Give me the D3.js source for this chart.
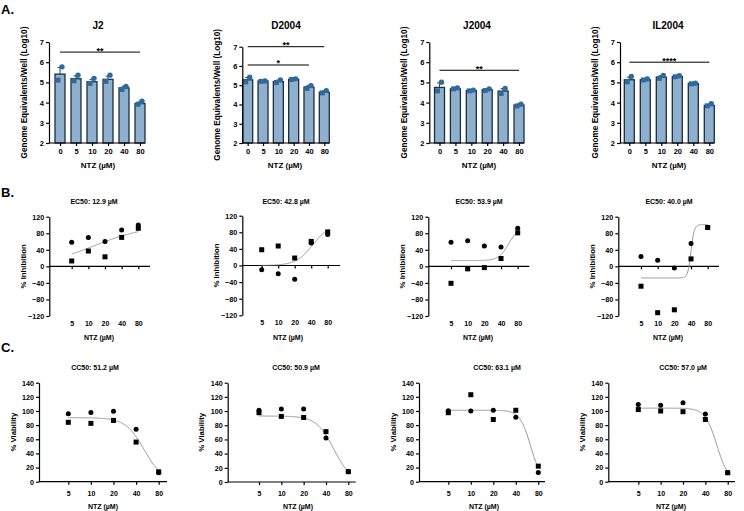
<!DOCTYPE html>
<html><head><meta charset="utf-8">
<script src="https://cdn.jsdelivr.net/npm/d3@7"></script>
<style>
body{margin:0;background:#fff;}
svg{display:block;font-family:"Liberation Sans",Arial,sans-serif;font-weight:bold;}
</style></head><body>
<svg id="c" width="744" height="511"></svg>
<script>
// ---------------- DATA ----------------
const doses = ["0","5","10","20","40","80"];
const strains = ["J2","D2004","J2004","IL2004"];

// Panel A: genome equivalents (log10), bar = mean, two replicates (circle / square), SEM
const barJ2      = [5.41, 5.18, 5.03, 5.15, 4.73, 3.95];
const circJ2     = [5.77, 5.36, 5.20, 5.36, 4.80, 4.07];
const sqJ2       = [5.11, 5.08, 4.95, 5.05, 4.65, 3.92];
const errJ2      = [0.33, 0.14, 0.12, 0.16, 0.08, 0.08];

const barD2004   = [5.28, 5.22, 5.19, 5.31, 4.90, 4.64];
const circD2004  = [5.41, 5.22, 5.28, 5.33, 4.98, 4.72];
const sqD2004    = [5.17, 5.20, 5.14, 5.30, 4.83, 4.60];
const errD2004   = [0.12, 0.02, 0.07, 0.02, 0.08, 0.06];

const barJ2004   = [4.75, 4.68, 4.60, 4.64, 4.57, 3.88];
const circJ2004  = [5.01, 4.73, 4.62, 4.68, 4.70, 3.92];
const sqJ2004    = [4.58, 4.68, 4.58, 4.60, 4.45, 3.83];
const errJ2004   = [0.22, 0.03, 0.02, 0.04, 0.12, 0.05];

const barIL2004  = [5.13, 5.13, 5.26, 5.29, 4.95, 3.86];
const circIL2004 = [5.29, 5.17, 5.34, 5.33, 4.96, 3.94];
const sqIL2004   = [5.03, 5.12, 5.20, 5.28, 4.93, 3.84];
const errIL2004  = [0.13, 0.03, 0.07, 0.03, 0.02, 0.05];

// significance brackets: [from, to, level, label]
const sigJ2     = [["0","80",6.5,"**"]];
const sigD2004  = [["0","80",7.0,"**"],["0","40",6.05,"*"]];
const sigJ2004  = [["0","80",5.6,"**"]];
const sigIL2004 = [["0","80",6.0,"****"]];

const yTicksA = [2,3,4,5,6,7];

// Panels B / C: dose-response
const doseNum = [5,10,20,40,80];

const inhCircJ2     = [58, 70, 60, 88, 100];
const inhSqJ2       = [13, 37, 23, 70, 92];
const inhCircD2004  = [-10, -20, -33, 54, 75];
const inhSqD2004    = [38, 47, 18, 58, 81];
const inhCircJ2004  = [58, 62, 49, 47, 92];
const inhSqJ2004    = [-41, -6, -3, 19, 81];
const inhCircIL2004 = [24, 15, -4, 55, 94];
const inhSqIL2004   = [-48, -112, -105, 18, 94];

// 4-parameter logistic fits: [bottom, top, EC50, hill]
const fitEC = [[0,100,12.9,0.9],[0,100,42.8,2.8],[14,92,53.9,5],[-28,101,40.0,15]];
const ec50Labels = ["EC50: 12.9 µM","EC50: 42.8 µM","EC50: 53.9 µM","EC50: 40.0 µM"];
const yTicksB = [-120,-80,-40,0,40,80,120];

const viaCircJ2     = [96, 98, 99.5, 74, 12.7];
const viaSqJ2       = [84, 82.5, 86.7, 56, 14];
const viaCircD2004  = [101, 103, 103, 62, 14.6];
const viaSqD2004    = [97.7, 92.5, 91, 71, 14.6];
const viaCircJ2004  = [100.4, 100, 101, 91, 13];
const viaSqJ2004    = [97.6, 123, 88, 101, 22];
const viaCircIL2004 = [109, 108, 111.7, 95.7, 12.7];
const viaSqIL2004   = [102, 100, 99, 88, 12.7];

// fits (decreasing): [bottom, top, CC50, hill]
const fitCC = [[0,90.5,51.2,3.5],[0,93,50.9,3.7],[0,101,63.1,6],[0,104,57.0,5.5]];
const cc50Labels = ["CC50: 51.2 µM","CC50: 50.9 µM","CC50: 63.1 µM","CC50: 57.0 µM"];
const yTicksC = [0,20,40,60,80,100,120,140];

// ---------------- LAYOUT ----------------
const svg = d3.select("#c");
const BAR_FILL = "#8fb0cd", BAR_STROKE = "#1c2e40", DOT_BLUE = "#2e6b9c";

// A: axisX, firstBar, lastBar, axisEnd, yTop(7), yBot(2), titleX, xlabX
const layA = [
  [49, 60, 140, 145, 42, 143, 98, 98],
  [242.3, 247.7, 324.3, 329, 46.7, 143, 286, 285],
  [429.3, 439.5, 519, 524, 42, 143, 477, 479],
  [620, 629.3, 709.3, 714, 42, 143, 668, 669]
];
// B: axisX, x5, x80, axisEnd, y120, y-120, titleX, xlabX
const layB = [
  [49.3, 71.7, 138.3, 150, 216.7, 316, 94, 99],
  [242.3, 261.7, 327.7, 340, 215.7, 315.3, 286, 288],
  [428.3, 451, 517.7, 529.3, 216.7, 316, 479, 478],
  [618.3, 641, 707.7, 719, 216.7, 316, 669, 668]
];
// C: axisX, x5, x80, axisEnd, y140, y0, titleX, xlabX
const layC = [
  [39, 68.3, 158.7, 167, 382.7, 481.7, 95, 103],
  [227.7, 259, 348.3, 355.7, 382.7, 482, 296, 298],
  [419, 448.3, 538.3, 545, 382.7, 481.7, 497, 484],
  [608.3, 638.3, 727.7, 735, 382.7, 481.7, 683, 671]
];

function styleAxis(g, fs){
  g.selectAll("path,line").attr("stroke","#000").attr("stroke-width",1.2);
  g.selectAll("text").attr("fill","#000").attr("font-size",fs).attr("font-weight","bold")
   .attr("font-family","'Liberation Sans',Arial,sans-serif");
}
function square(g, cx, cy, s){
  g.append("rect").attr("x",cx-s/2).attr("y",cy-s/2).attr("width",s).attr("height",s);
}

// panel letters
svg.append("text").attr("x",1).attr("y",14).attr("font-size",13).text("A.");
svg.append("text").attr("x",1).attr("y",197).attr("font-size",13).text("B.");
svg.append("text").attr("x",1).attr("y",352).attr("font-size",13).text("C.");

// ---------- Row A ----------
const dataA = [
  [barJ2,circJ2,sqJ2,errJ2,sigJ2],
  [barD2004,circD2004,sqD2004,errD2004,sigD2004],
  [barJ2004,circJ2004,sqJ2004,errJ2004,sigJ2004],
  [barIL2004,circIL2004,sqIL2004,errIL2004,sigIL2004]
];
dataA.forEach((d,i)=>{
  const [ax,x0,x1,xe,yt,yb,tx,lx] = layA[i];
  const [bars,circ,sq,err,sig] = d;
  const x = d3.scalePoint().domain(doses).range([x0,x1]);
  const y = d3.scaleLinear().domain([2,7]).range([yb,yt]);
  const g = svg.append("g");
  const bw = 10;
  // error bars (upward)
  const eg = g.append("g").attr("stroke","#1c2e40").attr("stroke-width",0.9);
  doses.forEach((k,j)=>{
    const cx = x(k), top = y(bars[j]+err[j]);
    eg.append("line").attr("x1",cx).attr("x2",cx).attr("y1",y(bars[j])).attr("y2",top);
    eg.append("line").attr("x1",cx-2.5).attr("x2",cx+2.5).attr("y1",top).attr("y2",top);
  });
  g.selectAll("rect.bar").data(bars).join("rect").attr("class","bar")
    .attr("x",(v,j)=>x(doses[j])-bw/2).attr("width",bw)
    .attr("y",v=>y(v)).attr("height",v=>y(2)-y(v))
    .attr("fill",BAR_FILL).attr("stroke",BAR_STROKE).attr("stroke-width",1.3);
  // replicates
  const dg = g.append("g").attr("fill",DOT_BLUE);
  doses.forEach((k,j)=>{
    square(dg, x(k)-2, y(sq[j]), 5);
    dg.append("circle").attr("cx",x(k)+2).attr("cy",y(circ[j])).attr("r",2.7);
  });
  // axes
  const ya = g.append("g").attr("transform",`translate(${ax},0)`)
    .call(d3.axisLeft(y).tickValues(yTicksA).tickFormat(d3.format("d")).tickSize(3).tickSizeOuter(0).tickPadding(2));
  styleAxis(ya,7.5);
  g.append("line").attr("x1",ax).attr("x2",xe).attr("y1",yb).attr("y2",yb)
    .attr("stroke","#000").attr("stroke-width",1.2);
  const xa = g.append("g").attr("transform",`translate(0,${yb})`)
    .call(d3.axisBottom(x).tickSize(3).tickPadding(3));
  xa.select(".domain").remove();
  styleAxis(xa,7.5);
  // significance
  sig.forEach(s=>{
    const ly = y(s[2]);
    g.append("line").attr("x1",x(s[0])).attr("x2",x(s[1])).attr("y1",ly).attr("y2",ly)
      .attr("stroke","#000").attr("stroke-width",1);
    g.append("text").attr("x",(x(s[0])+x(s[1]))/2).attr("y",ly+1.5)
      .attr("text-anchor","middle").attr("font-size",9).text(s[3]);
  });
  // labels
  g.append("text").attr("x",tx).attr("y",29).attr("text-anchor","middle")
    .attr("font-size",10).text(strains[i]);
  g.append("text").attr("x",lx).attr("y",168).attr("text-anchor","middle")
    .attr("font-size",8).text("NTZ (µM)");
  g.append("text").attr("transform",`translate(${ax-25},${(yt+yb)/2}) rotate(-90)`)
    .attr("dy","0.35em").attr("text-anchor","middle").attr("font-size",8.2)
    .text("Genome Equivalents/Well (Log10)");
});

// ---------- dose-response helper ----------
function logistic(p, inc){
  const [b,t,c,h] = p;
  return xv => inc ? b + (t-b)/(1+Math.pow(c/xv,h)) : b + (t-b)/(1+Math.pow(xv/c,h));
}
function drPanel(lay, circ, sq, fit, inc, yDom, yTicks, title, ylab, titleY, xlabY, tickMode){
  const [ax,x5,x80,xe,yt,yb,tx,lx] = lay;
  const x = d3.scaleLog().domain([5,80]).range([x5,x80]);
  const y = d3.scaleLinear().domain(yDom).range([yb,yt]);
  const g = svg.append("g");
  const ya = g.append("g").attr("transform",`translate(${ax},0)`)
    .call(d3.axisLeft(y).tickValues(yTicks).tickFormat(d3.format("d")).tickSize(3).tickSizeOuter(0).tickPadding(2));
  styleAxis(ya,7.2);
  const y0 = y(0);
  g.append("line").attr("x1",ax).attr("x2",xe).attr("y1",y0).attr("y2",y0)
    .attr("stroke","#000").attr("stroke-width",1.2);
  const xa = g.append("g").attr("transform",`translate(0,${y0})`)
    .call(d3.axisBottom(x).tickValues(doseNum).tickFormat(tickMode==="below" ? d3.format("d") : "")
      .tickSize(3).tickPadding(6));
  xa.select(".domain").remove();
  styleAxis(xa,7);
  if(tickMode==="bottom"){
    const xb = g.append("g").attr("transform",`translate(0,${yb})`)
      .call(d3.axisBottom(x).tickValues(doseNum).tickFormat(d3.format("d")).tickSize(0).tickPadding(5));
    xb.select(".domain").remove();
    styleAxis(xb,7);
  }
  // fit curve
  const f = logistic(fit, inc);
  const xs = d3.range(0,201).map(k=>5*Math.pow(16,k/200));
  g.append("path").datum(xs)
    .attr("d", d3.line().x(v=>x(v)).y(v=>y(f(v))))
    .attr("fill","none").attr("stroke","#8a8a8a").attr("stroke-width",0.9);
  // points
  const dg = g.append("g").attr("fill","#000");
  doseNum.forEach((dv,j)=>{
    square(dg, x(dv), y(sq[j]), 5);
    dg.append("circle").attr("cx",x(dv)).attr("cy",y(circ[j])).attr("r",2.5);
  });
  g.append("text").attr("x",tx).attr("y",titleY).attr("text-anchor","middle")
    .attr("font-size",7).text(title);
  g.append("text").attr("x",lx).attr("y",xlabY).attr("text-anchor","middle")
    .attr("font-size",7).text("NTZ (µM)");
  g.append("text").attr("transform",`translate(${ax-26},${(yt+yb)/2}) rotate(-90)`)
    .attr("dy","0.35em").attr("text-anchor","middle").attr("font-size",7.8).text(ylab);
}

const inhData = [[inhCircJ2,inhSqJ2],[inhCircD2004,inhSqD2004],[inhCircJ2004,inhSqJ2004],[inhCircIL2004,inhSqIL2004]];
inhData.forEach((d,i)=>drPanel(layB[i], d[0], d[1], fitEC[i], true, [-120,120], yTicksB,
  ec50Labels[i], "% Inhibition", 204, 340, "bottom"));

const viaData = [[viaCircJ2,viaSqJ2],[viaCircD2004,viaSqD2004],[viaCircJ2004,viaSqJ2004],[viaCircIL2004,viaSqIL2004]];
viaData.forEach((d,i)=>drPanel(layC[i], d[0], d[1], fitCC[i], false, [0,140], yTicksC,
  cc50Labels[i], "% Viability", 370, 509, "below"));
</script>
</body></html>
